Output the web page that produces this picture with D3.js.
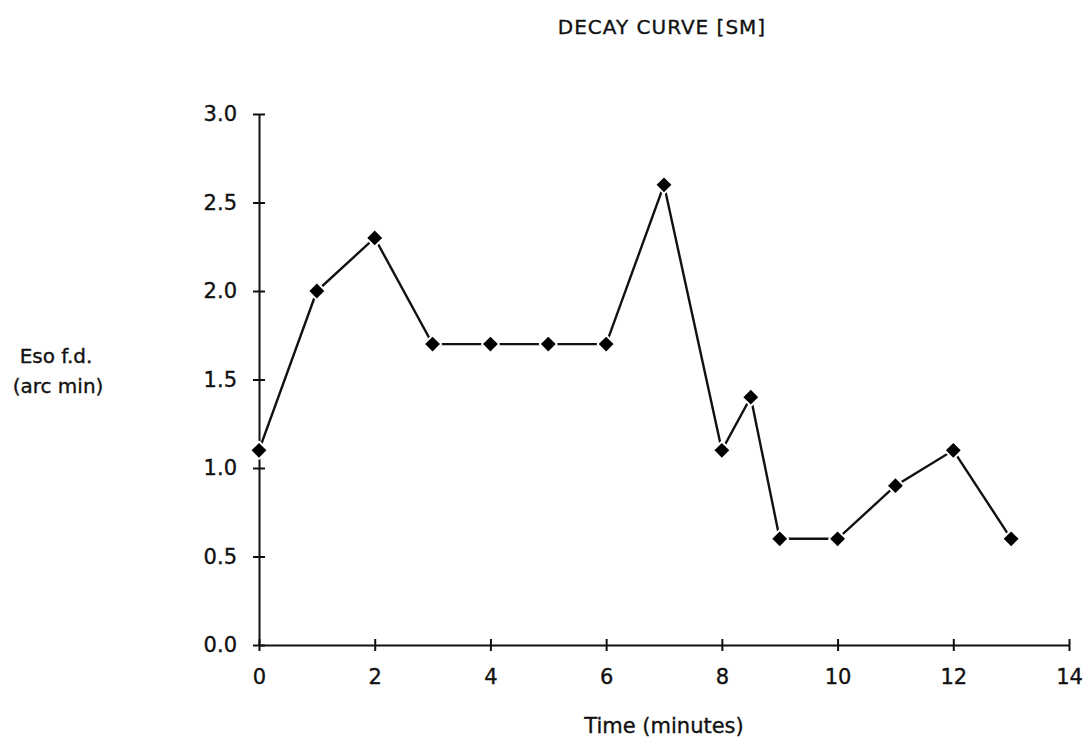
<!DOCTYPE html>
<html>
<head>
<meta charset="utf-8">
<script src="https://cdn.jsdelivr.net/npm/d3@7"></script>
<style>
  body { margin: 0; background: #fff; }
  text { font-family: "DejaVu Sans", sans-serif; fill: #111; stroke: #111; stroke-width: 0.35; }
</style>
</head>
<body>
<div id="chart"></div>
<script>
const times = [0, 1, 2, 3, 4, 5, 6, 7, 8, 8.5, 9, 10, 11, 12, 13];
const values = [1.1, 2.0, 2.3, 1.7, 1.7, 1.7, 1.7, 2.6, 1.1, 1.4, 0.6, 0.6, 0.9, 1.1, 0.6];
const xTicks = [0, 2, 4, 6, 8, 10, 12, 14];
const yTicks = [0, 0.5, 1.0, 1.5, 2.0, 2.5, 3.0];

const width = 1092, height = 743;
const margin = { top: 114, right: 23, bottom: 98, left: 259 };

const x = d3.scaleLinear().domain([0, 14]).range([margin.left, width - margin.right]);
const y = d3.scaleLinear().domain([0, 3]).range([height - margin.bottom, margin.top]);

const svg = d3.select("#chart").append("svg")
    .attr("width", width)
    .attr("height", height);

// axes
const xAxis = svg.append("g")
    .attr("transform", `translate(0,${y(0)})`)
    .call(d3.axisBottom(x).tickValues(xTicks).tickFormat(d3.format("d")).tickSize(0).tickPadding(24));
xAxis.select(".domain").attr("stroke", "#111").attr("stroke-width", 2);
xAxis.selectAll(".tick text").attr("font-size", 21).attr("fill", "#111");
xAxis.selectAll(".tick").append("line")
    .attr("y1", -6).attr("y2", 6)
    .attr("stroke", "#111").attr("stroke-width", 2);

const yAxis = svg.append("g")
    .attr("transform", `translate(${x(0)},0)`)
    .call(d3.axisLeft(y).tickValues(yTicks).tickFormat(d3.format(".1f")).tickSize(0).tickPadding(22));
yAxis.select(".domain").attr("stroke", "#111").attr("stroke-width", 2);
yAxis.selectAll(".tick text").attr("font-size", 21).attr("fill", "#111");
yAxis.selectAll(".tick").append("line")
    .attr("x1", -6).attr("x2", 6)
    .attr("stroke", "#111").attr("stroke-width", 2);

// data line
const pts = times.map((t, i) => ({ t: t, v: values[i] }));
svg.append("path")
    .datum(pts)
    .attr("fill", "none")
    .attr("stroke", "#111")
    .attr("stroke-width", 2.4)
    .attr("d", d3.line().x(d => x(d.t)).y(d => y(d.v)));

// diamond markers, white halo gives the little gaps
svg.append("g")
    .selectAll("path")
    .data(pts)
    .join("path")
    .attr("transform", d => `translate(${x(d.t)},${y(d.v)})`)
    .attr("d", d3.symbol().type(d3.symbolDiamond2).size(140))
    .attr("fill", "#000")
    .attr("stroke", "#fff")
    .attr("stroke-width", 4)
    .attr("stroke-linejoin", "round")
    .attr("paint-order", "stroke");

// titles
svg.append("text")
    .attr("x", 662).attr("y", 34)
    .attr("text-anchor", "middle")
    .attr("font-size", 20)
    .attr("letter-spacing", 1)
    .text("DECAY CURVE [SM]");

svg.append("text")
    .attr("x", 664).attr("y", 733)
    .attr("text-anchor", "middle")
    .attr("font-size", 21)
    .text("Time (minutes)");

svg.append("text")
    .attr("x", 56).attr("y", 363)
    .attr("text-anchor", "middle")
    .attr("font-size", 20)
    .text("Eso f.d.");
svg.append("text")
    .attr("x", 58).attr("y", 393)
    .attr("text-anchor", "middle")
    .attr("font-size", 20)
    .text("(arc min)");
</script>
</body>
</html>
